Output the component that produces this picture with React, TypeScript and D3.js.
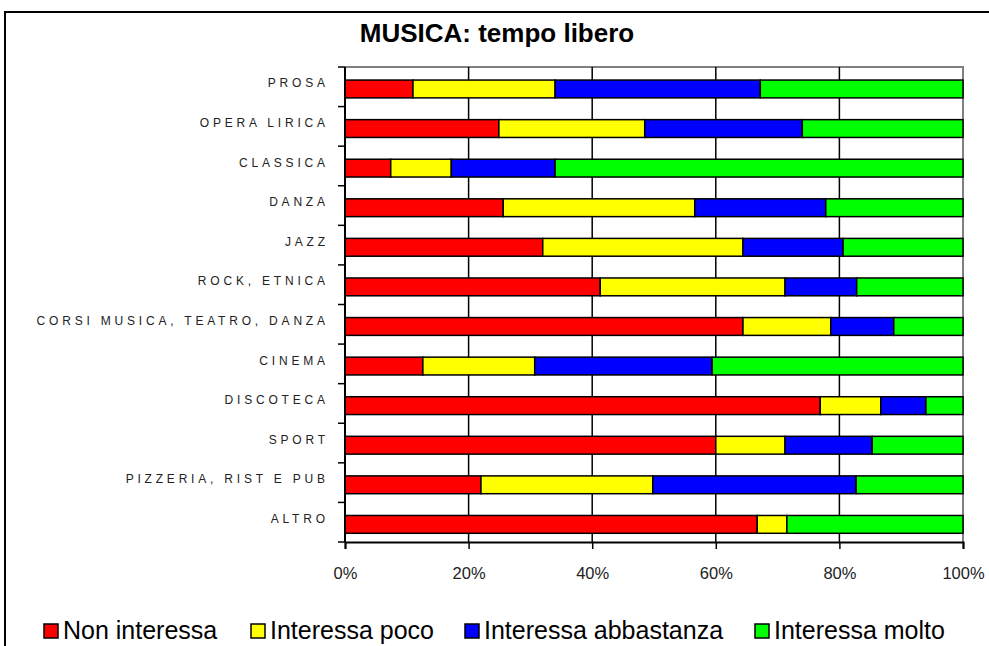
import React, { useEffect, useRef } from "react";
import * as d3 from "d3";

const categories = [
  "PROSA",
  "OPERA LIRICA",
  "CLASSICA",
  "DANZA",
  "JAZZ",
  "ROCK, ETNICA",
  "CORSI MUSICA, TEATRO, DANZA",
  "CINEMA",
  "DISCOTECA",
  "SPORT",
  "PIZZERIA, RIST E PUB",
  "ALTRO",
];

const seriesNames = [
  "Non interessa",
  "Interessa poco",
  "Interessa abbastanza",
  "Interessa molto",
];

// percentages per category
const nonInteressa = [11.0, 24.9, 7.4, 25.6, 32.0, 41.3, 64.4, 12.6, 76.9, 60.0, 22.0, 66.7];
const interessaPoco = [23.0, 23.6, 9.8, 31.0, 32.4, 29.9, 14.2, 18.1, 9.8, 11.2, 27.8, 4.8];
const interessaAbbastanza = [33.2, 25.5, 16.8, 21.2, 16.2, 11.6, 10.2, 28.7, 7.3, 14.1, 32.9, 0];
const interessaMolto = [32.8, 26.0, 66.0, 22.2, 19.4, 17.2, 11.2, 40.6, 6.0, 14.7, 17.3, 28.5];

const colors = ["#ff0000", "#ffff00", "#0000ff", "#00ff00"];
const xTicks = [0, 20, 40, 60, 80, 100];

function App() {
  const svgRef = useRef<SVGSVGElement>(null);
  const width = 989;
  const height = 646;

  useEffect(() => {
    const svg = d3.select(svgRef.current);
    svg.selectAll("*").remove();

    const font = "'Liberation Sans', Arial, sans-serif";
    const plot = { left: 345, right: 963, top: 67, bottom: 542 };

    // outer frame (runs off the right and bottom edges)
    svg
      .append("rect")
      .attr("x", 5)
      .attr("y", 12)
      .attr("width", 1000)
      .attr("height", 700)
      .attr("fill", "white")
      .attr("stroke", "black")
      .attr("stroke-width", 2);

    // title
    svg
      .append("text")
      .attr("x", 497)
      .attr("y", 42)
      .attr("text-anchor", "middle")
      .style("font-family", font)
      .style("font-weight", "bold")
      .style("font-size", "26px")
      .text("MUSICA: tempo libero");

    const x = d3.scaleLinear().domain([0, 100]).range([plot.left, plot.right]);
    const y = d3
      .scaleBand()
      .domain(categories)
      .range([plot.top, plot.bottom])
      .paddingInner(0.55)
      .paddingOuter(0.275)
      .align(0.6);

    const rows = categories.map((c, i) => ({
      category: c,
      values: [nonInteressa[i], interessaPoco[i], interessaAbbastanza[i], interessaMolto[i]],
    }));
    const stacked = d3
      .stack<any>()
      .keys([0, 1, 2, 3] as any)
      .value((d: any, k: any) => d.values[k])(rows as any);

    // plot frame: gray top and right
    svg
      .append("path")
      .attr("d", `M${plot.left},${plot.top}H${plot.right}V${plot.bottom}`)
      .attr("fill", "none")
      .attr("stroke", "#808080")
      .attr("stroke-width", 2);

    // vertical grid lines
    svg
      .append("g")
      .selectAll("line")
      .data(xTicks.slice(1, -1))
      .join("line")
      .attr("x1", (d) => x(d))
      .attr("x2", (d) => x(d))
      .attr("y1", plot.top)
      .attr("y2", plot.bottom)
      .attr("stroke", "black")
      .attr("stroke-width", 1.5);

    // bars
    stacked.forEach((layer, k) => {
      svg
        .append("g")
        .selectAll("rect")
        .data(layer.filter((d) => d[1] - d[0] > 0))
        .join("rect")
        .attr("x", (d) => x(d[0]))
        .attr("width", (d) => x(d[1]) - x(d[0]))
        .attr("y", (d: any) => y(d.data.category) as number)
        .attr("height", y.bandwidth())
        .attr("fill", colors[k])
        .attr("stroke", "black")
        .attr("stroke-width", 1.5);
    });

    // left axis with ticks between categories
    const yAxis = svg.append("g");
    yAxis
      .append("line")
      .attr("x1", plot.left)
      .attr("x2", plot.left)
      .attr("y1", plot.top)
      .attr("y2", plot.bottom)
      .attr("stroke", "black")
      .attr("stroke-width", 2);
    yAxis
      .selectAll("line.tick")
      .data(d3.range(categories.length + 1))
      .join("line")
      .attr("class", "tick")
      .attr("x1", plot.left - 7)
      .attr("x2", plot.left)
      .attr("y1", (i) => plot.top + i * y.step())
      .attr("y2", (i) => plot.top + i * y.step())
      .attr("stroke", "black")
      .attr("stroke-width", 1.5);

    const spacing = 3.8;
    yAxis
      .selectAll("text")
      .data(categories)
      .join("text")
      .attr("x", 325 + spacing)
      .attr("y", (d) => (y(d) as number) + y.bandwidth() / 2 - 1.5)
      .attr("text-anchor", "end")
      .style("font-family", font)
      .style("font-size", "12px")
      .style("letter-spacing", `${spacing}px`)
      .attr("fill", "#222")
      .text((d) => d);

    // bottom axis
    svg
      .append("g")
      .attr("transform", `translate(0,${plot.bottom})`)
      .call(
        d3
          .axisBottom(x)
          .tickValues(xTicks)
          .tickSize(7)
          .tickPadding(18)
          .tickFormat((d) => `${d}%`)
      )
      .call((g) => g.select(".domain").attr("stroke-width", 2))
      .call((g) => g.selectAll(".tick line").attr("stroke-width", 1.5))
      .call((g) =>
        g
          .selectAll(".tick text")
          .style("font-family", font)
          .style("font-size", "16.5px")
          .attr("fill", "#222")
      );

    // legend
    const legendX = [44, 251, 465, 755];
    const legend = svg
      .append("g")
      .selectAll("g")
      .data(seriesNames)
      .join("g")
      .attr("transform", (_, i) => `translate(${legendX[i]},624)`);
    legend
      .append("rect")
      .attr("width", 14)
      .attr("height", 14)
      .attr("fill", (_, i) => colors[i])
      .attr("stroke", "black")
      .attr("stroke-width", 1.5);
    legend
      .append("text")
      .attr("x", 19)
      .attr("y", 15)
      .style("font-family", font)
      .style("font-size", "25px")
      .text((d) => d);
  }, []);

  return (
    <svg
      ref={svgRef}
      width={width}
      height={height}
      style={{ position: "absolute", left: 0, top: 0 }}
    ></svg>
  );
}

export default App;
